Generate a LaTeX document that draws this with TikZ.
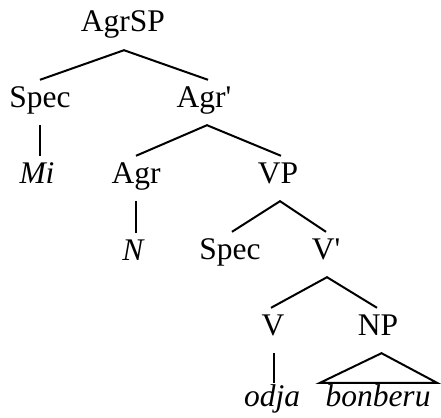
\documentclass[tikz,border=0pt]{standalone}
\usepackage{fontspec}
\setmainfont{Liberation Serif}
\usetikzlibrary{calc}
\begin{document}
\begin{tikzpicture}[x=1pt,y=-1pt,
  cat/.style={anchor=base,inner ysep=0pt,inner xsep=0pt,text height=27pt,text depth=18pt,
    font=\fontsize{31.5}{36}\selectfont},
  word/.style={cat,font=\fontsize{31.5}{36}\selectfont\itshape},
  low/.style={text height=23pt},
  branch/.style={line width=2pt,line join=miter}]
\useasboundingbox (0,0) rectangle (441,417);
% labels
\node[cat] (agrsp) at (123,32) {AgrSP};
\node[cat] (spec1) at (40,107) {Spec};
\node[cat] (agrbar) at (204,107) {Agr\textquotesingle};
\node[word] (mi) at (37,183) {Mi};
\node[cat] (agr) at (136,183) {Agr};
\node[cat] (vp) at (278,183) {VP};
\node[word] (n) at (133,260) {N};
\node[cat] (spec2) at (230,259) {Spec};
\node[cat] (vbar) at (326,259) {V\textquotesingle};
\node[cat] (v) at (273,335) {V};
\node[cat] (np) at (378,335) {NP};
\node[word,low] (odja) at (272,406) {odja};
\node[word,low] (bonberu) at (378,406) {bonberu};
% branches
\draw[branch] (spec1.north) -- ([xshift=1pt]agrsp.south) -- ([xshift=4pt]agrbar.north);
\draw[branch] (spec1.south) -- (spec1.south |- mi.north);
\draw[branch] (agr.north) -- ([xshift=3pt]agrbar.south) -- ([xshift=3pt]vp.north);
\draw[branch] (agr.south) -- (agr.south |- n.north);
\draw[branch] ([xshift=2pt]spec2.north) -- ([xshift=2pt]vp.south) -- (vbar.north);
\draw[branch] ([xshift=-2pt]v.north) -- ([xshift=1pt]vbar.south) -- ([xshift=-1pt]np.north);
\draw[branch] ([xshift=1pt]v.south) -- ([xshift=1pt]v.south |- odja.north);
\draw[branch] ([xshift=3.5pt]np.south) -- ([xshift=59pt]bonberu.north) -- ([xshift=-58pt]bonberu.north) -- cycle;
\end{tikzpicture}
\end{document}
